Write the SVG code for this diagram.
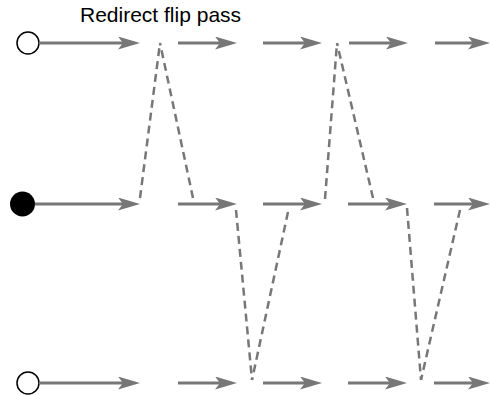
<svg xmlns="http://www.w3.org/2000/svg" width="490" height="395" viewBox="0 0 490 395">
  <style>
    .flow { stroke: #777; stroke-width: 3; fill: none; marker-end: url(#head); }
    .flip { stroke: #777; stroke-width: 2.5; fill: none; stroke-dasharray: 8 5; }
    .label { font-family: "Liberation Sans", Arial, sans-serif; font-size: 21px; fill: #000; }
  </style>
  <defs>
    <marker id="head" markerUnits="userSpaceOnUse" viewBox="0 0 22 13" refX="10" refY="6.5" markerWidth="22" markerHeight="13" orient="auto">
      <path d="M0,0 L22,6.5 L0,13 L5,6.5 Z" fill="#777"/>
    </marker>
  </defs>
  <rect width="490" height="395" fill="#fff"/>

  <text class="label" x="80" y="22">Redirect flip pass</text>

  <!-- line start markers -->
  <g id="start-top"><circle cx="28" cy="43" r="11" fill="#fff" stroke="#000" stroke-width="1.5"/></g>
  <g id="start-mid"><circle cx="22.5" cy="204" r="12.5" fill="#000"/></g>
  <g id="start-bot"><circle cx="28" cy="383" r="11" fill="#fff" stroke="#000" stroke-width="1.5"/></g>

  <g id="connectors">
    <!-- top line -->
    <line class="flow" x1="39" y1="43" x2="128" y2="43"/>
    <line class="flow" x1="178" y1="43" x2="225" y2="43"/>
    <line class="flow" x1="263" y1="43" x2="310" y2="43"/>
    <line class="flow" x1="349" y1="43" x2="396" y2="43"/>
    <line class="flow" x1="435" y1="43" x2="478" y2="43"/>
    <!-- middle line -->
    <line class="flow" x1="35" y1="204" x2="128" y2="204"/>
    <line class="flow" x1="178" y1="204" x2="225" y2="204"/>
    <line class="flow" x1="263" y1="204" x2="310" y2="204"/>
    <line class="flow" x1="348" y1="204" x2="395" y2="204"/>
    <line class="flow" x1="434" y1="204" x2="478" y2="204"/>
    <!-- bottom line -->
    <line class="flow" x1="39" y1="383" x2="128" y2="383"/>
    <line class="flow" x1="178" y1="383" x2="225" y2="383"/>
    <line class="flow" x1="263" y1="383" x2="310" y2="383"/>
    <line class="flow" x1="348" y1="383" x2="395" y2="383"/>
    <line class="flow" x1="434" y1="383" x2="478" y2="383"/>

    <!-- flips between lines -->
    <path class="flip" d="M140,198 L160,43"/>
    <path class="flip" d="M193,198 L160,43"/>
    <path class="flip" d="M236,210 L252,380"/>
    <path class="flip" d="M288,212 L252,380"/>
    <path class="flip" d="M325,199 L337,43"/>
    <path class="flip" d="M373,198 L337,43"/>
    <path class="flip" d="M407,208 L421,380"/>
    <path class="flip" d="M460,210 L421,380"/>
  </g>
</svg>
